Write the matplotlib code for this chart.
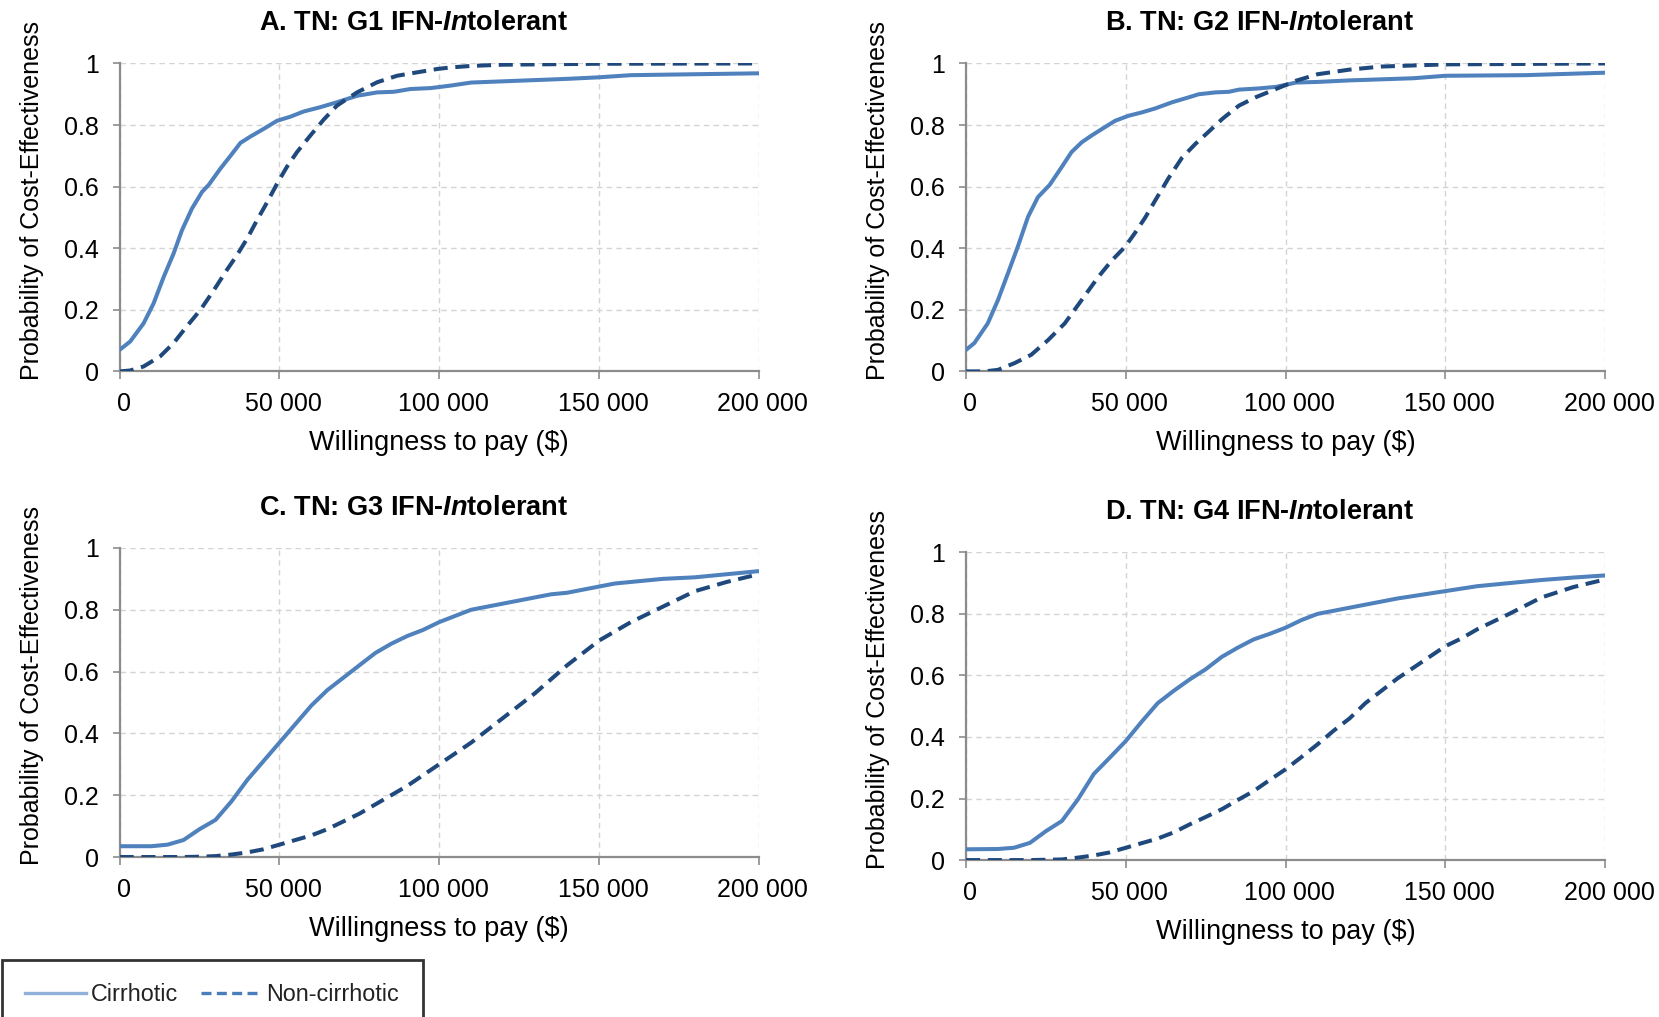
import matplotlib.pyplot as plt
import matplotlib.transforms as mtransforms
from matplotlib.lines import Line2D

plt.rcParams['font.family'] = ['Liberation Sans', 'DejaVu Sans']
plt.rcParams['mathtext.fontset'] = 'custom'
plt.rcParams['mathtext.it'] = 'Liberation Sans:italic:bold'
plt.rcParams['mathtext.rm'] = 'Liberation Sans:bold'
plt.rcParams['mathtext.bf'] = 'Liberation Sans:bold'

# === Data ===
# Panel A
wtp_cirr_a = [0, 3300, 7500, 10600, 13800, 16900, 19500, 22600, 25800, 27900, 31500, 34700, 37800,
              41000, 45000, 49300, 53400, 57600, 62800, 68000, 74300, 80600, 85800, 91000, 97300,
              103500, 110000, 120000, 140000, 150000, 160000, 180000, 200000]
cirr_a = [0.07, 0.097, 0.156, 0.22, 0.307, 0.383, 0.458, 0.528, 0.583, 0.606, 0.658, 0.70, 0.742,
          0.763, 0.787, 0.814, 0.827, 0.844, 0.858, 0.874, 0.895, 0.906, 0.908, 0.917, 0.92,
          0.928, 0.938, 0.942, 0.95, 0.955, 0.962, 0.965, 0.968]
wtp_noncirr_a = [0, 3300, 7500, 12700, 16900, 21000, 25300, 29500, 33600, 36700, 39900, 43000,
                 46100, 49300, 52400, 55500, 59700, 63900, 68000, 74300, 80600, 86800, 93000,
                 99400, 103500, 110000, 120000, 150000, 200000]
noncirr_a = [0.0, 0.003, 0.016, 0.049, 0.092, 0.146, 0.20, 0.264, 0.33, 0.377, 0.431, 0.491,
             0.548, 0.61, 0.665, 0.712, 0.766, 0.818, 0.863, 0.906, 0.939, 0.96, 0.971,
             0.982, 0.987, 0.992, 0.996, 0.999, 1.0]

# Panel B
wtp_cirr_b = [0, 2600, 6800, 10000, 13100, 16200, 19400, 22500, 26200, 29900, 33000, 36200, 39300,
              42500, 46700, 50800, 55000, 59200, 64500, 69700, 72800, 78000, 82300, 85400, 91700,
              97000, 103300, 110000, 120000, 140000, 150000, 175000, 200000]
cirr_b = [0.07, 0.092, 0.156, 0.232, 0.318, 0.405, 0.502, 0.566, 0.606, 0.663, 0.712, 0.744, 0.766,
          0.787, 0.814, 0.83, 0.841, 0.854, 0.874, 0.89, 0.90, 0.906, 0.908, 0.915, 0.919,
          0.924, 0.938, 0.94, 0.945, 0.952, 0.96, 0.962, 0.97]
wtp_noncirr_b = [0, 5800, 10000, 15200, 20400, 25700, 30900, 36200, 41400, 45600, 49800, 52900,
                 56100, 59200, 63400, 67600, 71800, 76000, 80200, 85400, 90600, 97000, 103300,
                 110000, 120000, 130000, 150000, 200000]
noncirr_b = [0.0, 0.0, 0.005, 0.027, 0.054, 0.102, 0.156, 0.232, 0.307, 0.36, 0.405, 0.45,
             0.50, 0.555, 0.628, 0.694, 0.739, 0.779, 0.82, 0.863, 0.89, 0.917, 0.944,
             0.965, 0.98, 0.99, 0.997, 1.0]

# Panels C and D
wtp_cd = [0, 10000, 15000, 20000, 25000, 30000, 35000, 40000, 45000, 50000, 55000, 60000, 65000,
          70000, 75000, 80000, 85000, 90000, 95000, 100000, 105000, 110000, 115000, 120000,
          125000, 130000, 135000, 140000, 145000, 150000, 155000, 160000, 170000, 180000,
          190000, 200000]
cirr_c = [0.035, 0.035, 0.04, 0.055, 0.09, 0.12, 0.18, 0.25, 0.31, 0.37, 0.43, 0.49, 0.54,
          0.58, 0.62, 0.66, 0.69, 0.715, 0.735, 0.76, 0.78, 0.80, 0.81, 0.82,
          0.83, 0.84, 0.85, 0.855, 0.865, 0.875, 0.885, 0.89, 0.90, 0.905, 0.915, 0.925]
noncirr_c = [0.0, 0.0, 0.0, 0.0, 0.001, 0.003, 0.008, 0.015, 0.025, 0.04, 0.055, 0.07, 0.09,
             0.115, 0.14, 0.17, 0.2, 0.23, 0.265, 0.30, 0.335, 0.37, 0.41, 0.45,
             0.49, 0.53, 0.575, 0.62, 0.66, 0.70, 0.73, 0.76, 0.81, 0.86, 0.89, 0.915]
cirr_d = [0.035, 0.036, 0.04, 0.056, 0.094, 0.127, 0.197, 0.28, 0.333, 0.387, 0.45, 0.51, 0.55,
          0.587, 0.62, 0.66, 0.69, 0.717, 0.735, 0.755, 0.78, 0.80, 0.81, 0.82,
          0.83, 0.84, 0.85, 0.858, 0.866, 0.874, 0.882, 0.89, 0.90, 0.91, 0.918, 0.925]
noncirr_d = [0.0, 0.0, 0.0, 0.0, 0.001, 0.002, 0.008, 0.015, 0.025, 0.04, 0.055, 0.07, 0.09,
             0.116, 0.14, 0.165, 0.195, 0.224, 0.26, 0.295, 0.335, 0.376, 0.42, 0.46,
             0.51, 0.55, 0.59, 0.625, 0.66, 0.695, 0.72, 0.75, 0.80, 0.853, 0.887, 0.912]

panels = [
    ('A. TN: G1 IFN-$\\it{In}$tolerant', wtp_cirr_a, cirr_a, wtp_noncirr_a, noncirr_a),
    ('B. TN: G2 IFN-$\\it{In}$tolerant', wtp_cirr_b, cirr_b, wtp_noncirr_b, noncirr_b),
    ('C. TN: G3 IFN-$\\it{In}$tolerant', wtp_cd, cirr_c, wtp_cd, noncirr_c),
    ('D. TN: G4 IFN-$\\it{In}$tolerant', wtp_cd, cirr_d, wtp_cd, noncirr_d),
]

xticks = [0, 50000, 100000, 150000, 200000]
xticklabels = ['0', '50 000', '100 000', '150 000', '200 000']
yticks = [0, 0.2, 0.4, 0.6, 0.8, 1]
yticklabels = ['0', '0.2', '0.4', '0.6', '0.8', '1']

# axes positions in figure fractions [left, bottom, width, height]
positions = [
    [0.0721, 0.6348, 0.3852, 0.3028],
    [0.5823, 0.6348, 0.3852, 0.3028],
    [0.0721, 0.1573, 0.3852, 0.3039],
    [0.5823, 0.1543, 0.3852, 0.3026],
]

solid_color = '#4F81BD'
dash_color = '#1F497D'

fig = plt.figure(figsize=(16.59, 10.17), dpi=100)
shift = mtransforms.ScaledTranslation(4 / 100, 0, fig.dpi_scale_trans)

for (title, x1, y1, x2, y2), pos in zip(panels, positions):
    ax = fig.add_axes(pos)
    ax.plot(x1, y1, color=solid_color, lw=2.9, solid_capstyle='round', zorder=3)
    ax.plot(x2, y2, color=dash_color, lw=2.9, dashes=(3.5, 1.9), zorder=3)
    ax.set_xlim(0, 200000)
    ax.set_ylim(0, 1)
    ax.set_xticks(xticks)
    ax.set_xticklabels(xticklabels)
    ax.set_yticks(yticks)
    ax.set_yticklabels(yticklabels)
    ax.grid(True, color='#D4D4D4', lw=1, ls=(0, (4, 3)))
    ax.set_axisbelow(True)
    for s in ['top', 'right']:
        ax.spines[s].set_visible(False)
    for s in ['left', 'bottom']:
        ax.spines[s].set_color('#8C8C8C')
        ax.spines[s].set_linewidth(1.6)
    ax.tick_params(axis='x', length=6, width=1.2, color='#8C8C8C', pad=9, labelsize=18)
    ax.tick_params(axis='y', length=5, width=1.2, color='#8C8C8C', pad=10, labelsize=18)
    for lab in ax.get_xticklabels():
        lab.set_transform(lab.get_transform() + shift)
    ax.set_xlabel('Willingness to pay ($)', fontsize=19.5, labelpad=10)
    ax.set_ylabel('Probability of Cost-Effectiveness', fontsize=18)
    ax.yaxis.set_label_coords(-0.119, 0.555)
    ax.text(0.46, 1.13, title, transform=ax.transAxes, ha='center', va='center',
            fontsize=19.5, fontweight='bold')

handles = [
    Line2D([], [], color='#8FB1DA', lw=2.4),
    Line2D([], [], color='#4A7EBB', lw=2.4, dashes=(3, 1.6)),
]
leg = fig.legend(handles, ['Cirrhotic', 'Non-cirrhotic'], loc='upper left',
                 bbox_to_anchor=(2 / 1659, 1 - 960 / 1017), ncol=2, fontsize=16.8,
                 handlelength=2.6, handletextpad=0.2, columnspacing=1.0,
                 borderpad=1.0, borderaxespad=0, fancybox=False, frameon=True)
leg.get_frame().set_edgecolor('black')
leg.get_frame().set_linewidth(2)
for t in leg.get_texts():
    t.set_color('#222222')

plt.savefig('out.png', dpi=100)
plt.close()
